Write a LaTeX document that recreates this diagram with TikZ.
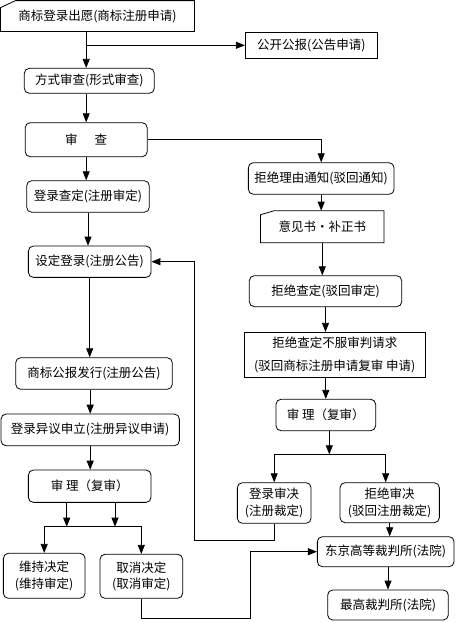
\documentclass[tikz,border=0pt]{standalone}
\usepackage{fontspec}
\setmainfont{Noto Sans CJK SC}
\usepackage{tikz}
\usetikzlibrary{arrows.meta}

\begin{document}
\begin{tikzpicture}[x=1pt, y=-1pt, line width=0.8pt, ->, >={Triangle[length=9pt,width=7pt]},
	every node/.style={font=\fontsize{12.5}{16.5}\selectfont, inner sep=0pt, align=center}]

	\tikzstyle{box}=[draw, -, rounded corners=5pt]
	\tikzstyle{plain}=[draw, -]
	\tikzstyle{card}=[draw=none]
	\useasboundingbox (0,0) rectangle (459,622);

	% left column
	\node[card] (apply) at (97.5,16) [minimum width=193pt, minimum height=30pt] {商标登录出愿(商标注册申请)};
	\node[box] (formal) at (89.3,80.8) [minimum width=130pt, minimum height=25pt] {方式审查(形式审查)};
	\node[box] (exam) at (86.2,139.7) [minimum width=122pt, minimum height=34pt] {审\hspace{17pt}查};
	\node[box] (regdec) at (88,196.5) [minimum width=122.6pt, minimum height=31.6pt] {登录查定(注册审定)};
	\node[box] (setreg) at (89.7,261.7) [minimum width=122.7pt, minimum height=31.3pt] {设定登录(注册公告)};
	\node[box] (gazette) at (94,373.5) [minimum width=156.6pt, minimum height=31.6pt] {商标公报发行(注册公告)};
	\node[box] (oppose) at (90.2,429.9) [minimum width=178.3pt, minimum height=31.7pt] {登录异议申立(注册异议申请)};
	\node[box] (trialL) at (89.7,486.2) [minimum width=122.7pt, minimum height=32.3pt] {审 理（复审）};
	\node[box] (keep) at (44.2,575.8) [minimum width=81.7pt, minimum height=45pt] {维持决定\\(维持审定)};
	\node[box] (cancel) at (141.3,576.3) [minimum width=82.7pt, minimum height=44pt] {取消决定\\(取消审定)};

	% right column
	\node[plain] (publish) at (311.3,45.3) [minimum width=132pt, minimum height=26pt] {公开公报(公告申请)};
	\node[box] (refusal) at (321.2,178.5) [minimum width=145.7pt, minimum height=31.6pt] {拒绝理由通知(驳回通知)};
	\node[card] (opinion) at (322.3,226.7) [minimum width=122.7pt, minimum height=31.3pt] {意见书・补正书};
	\node[box] (rejdec) at (325.5,291.2) [minimum width=152.4pt, minimum height=31pt] {拒绝查定(驳回审定)};
	\node[plain] (appeal) at (334.8,354.8) [minimum width=180.3pt, minimum height=45pt] {拒绝查定不服审判请求\\[6pt](驳回商标注册申请复审 申请)};
	\node[box] (trialR) at (325.8,415) [minimum width=99.7pt, minimum height=31.4pt] {审 理（复审）};
	\node[box] (regtrial) at (274.2,503) [minimum width=73.7pt, minimum height=40.6pt] {登录审决\\(注册裁定)};
	\node[box] (rejtrial) at (389.7,502.7) [minimum width=99.3pt, minimum height=40pt] {拒绝审决\\(驳回注册裁定)};
	\node[box] (tokyo) at (385.7,551.7) [minimum width=136.7pt, minimum height=30pt] {东京高等裁判所(法院)};
	\node[box] (supreme) at (388,605) [minimum width=120.6pt, minimum height=30pt] {最高裁判所(法院)};

	% cut corners
	\draw[-] (apply.south west) -- (apply.south east) -- (apply.north east) -- ([xshift=15pt]apply.north west) -- ([yshift=-7pt]apply.north west) -- cycle;
	\draw[-] (opinion.south west) -- (opinion.south east) -- (opinion.north east) -- ([xshift=14pt]opinion.north west) -- ([yshift=-4pt]opinion.north west) -- cycle;

	\coordinate (fork1) at (66.7,526.7);
	\coordinate (fork2) at (115,526.7);
	\coordinate (fork3) at (329.3,454.3);
	\coordinate (loopR) at (194.3,540.7);
	\coordinate (loopB) at (250,618.3);

	% From apply
	\draw (apply.south -| exam.north) -- (formal.north -| exam.north);
	\draw (publish.west -| exam.north) -- (publish.west);
	\draw (formal.south -| exam.north) -- (exam.north);

	% From exam
	\draw (exam.south) -- (exam.south |- regdec.north);
	\draw (exam.east) -| (refusal.north);
	\draw (regdec.south) -- (regdec.south |- setreg.north);
	\draw (setreg.south) -- (setreg.south |- gazette.north);
	\draw (oppose.north |- gazette.south) -- (oppose.north);
	\draw (oppose.south) -- (oppose.south |- trialL.north);

	% left trial
	\draw (trialL.south -| fork1) -- (fork1);
	\draw (trialL.south -| fork2) -- (fork2);
	\draw[-] (fork1) -- (fork2);
	\draw (fork1) -| (keep.north);
	\draw (fork2) -| (cancel.north);

	% From refusal
	\draw (refusal.south) -- (refusal.south |- opinion.north);
	\draw (opinion.south) -- (opinion.south |- rejdec.north);
	\draw (rejdec.south) -- (rejdec.south |- appeal.north);
	\draw (trialR.north |- appeal.south) -- (trialR.north);

	% right trial
	\draw (trialR.south -| fork3) -- (fork3);
	\draw (fork3) -| (regtrial.north);
	\draw (fork3) -| ([xshift=-4pt]rejtrial.north);
	\draw (rejtrial.south) -- (rejtrial.south |- tokyo.north);
	\draw (supreme.north |- tokyo.south) -- (supreme.north);

	% back loops
	\draw (regtrial.south) |- (loopR) |- (setreg.east);
	\draw (cancel.south) |- (loopB) |- (tokyo.west);

\end{tikzpicture}
\end{document}
